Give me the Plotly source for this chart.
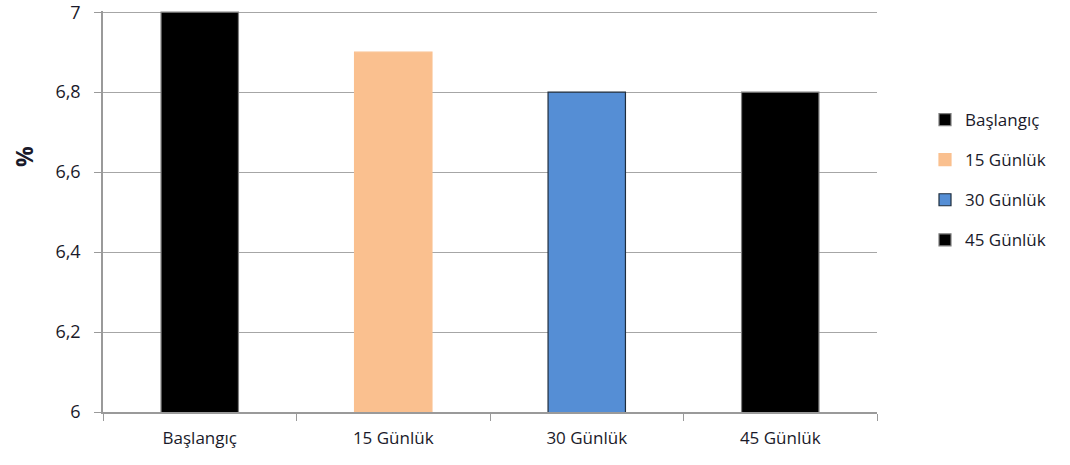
import plotly.graph_objects as go

categories = ["Başlangıç", "15 Günlük", "30 Günlük", "45 Günlük"]
values = [7.0, 6.9, 6.8, 6.8]
colors = ["#000000", "#FAC08F", "#558ED5", "#000000"]
line_colors = ["#7F7F7F", "#FAC08F", "#1F2D3D", "#7F7F7F"]
tick_vals = [6, 6.2, 6.4, 6.6, 6.8, 7]
tick_text = ["6", "6,2", "6,4", "6,6", "6,8", "7"]

fig = go.Figure()
for i, (c, v) in enumerate(zip(categories, values)):
    fig.add_trace(go.Bar(
        x=[c], y=[v], name=c, width=0.4,
        marker=dict(color=colors[i], line=dict(color=line_colors[i], width=1.2)),
        legendgroup=c,
    ))

font = "Open Sans, Noto Sans, sans-serif"
plot_w = 1070 - 103 - 193
plot_h = 465 - 11 - 53
fig.update_layout(
    width=1070, height=465,
    margin=dict(l=103, r=193, t=11, b=53, autoexpand=False),
    plot_bgcolor="white", paper_bgcolor="white",
    barmode="overlay",
    font=dict(family=font, size=18, color="#1A1A2A"),
    legend=dict(x=(925 - 103) / plot_w, y=(465 - 53 - 102) / plot_h,
                xanchor="left", yanchor="top",
                font=dict(size=17), tracegroupgap=15, itemwidth=30),
    xaxis=dict(
        categoryorder="array", categoryarray=categories,
        showline=True, linecolor="#9A9A9A", linewidth=1.5,
        ticks="outside", tickson="boundaries", ticklen=7, tickcolor="#9A9A9A",
        tickfont=dict(size=17), showgrid=False, automargin=False,
        ticklabelstandoff=10,
    ),
    yaxis=dict(
        range=[6, 7.003], tickvals=tick_vals, ticktext=tick_text,
        showline=True, linecolor="#9A9A9A", linewidth=1.5,
        ticks="outside", ticklen=7, tickcolor="#9A9A9A",
        showgrid=True, gridcolor="#A6A6A6", gridwidth=1.2,
        tickfont=dict(size=18), automargin=False, ticklabelstandoff=10,
        ticklabeloverflow="allow", zeroline=False,
    ),
    annotations=[dict(text="<b>%</b>", x=(24 - 103) / plot_w,
                      y=(465 - 53 - 157) / plot_h, xref="paper", yref="paper",
                      xanchor="center", yanchor="middle",
                      showarrow=False, textangle=-90, font=dict(size=23))],
)
fig.write_html("out.html")
